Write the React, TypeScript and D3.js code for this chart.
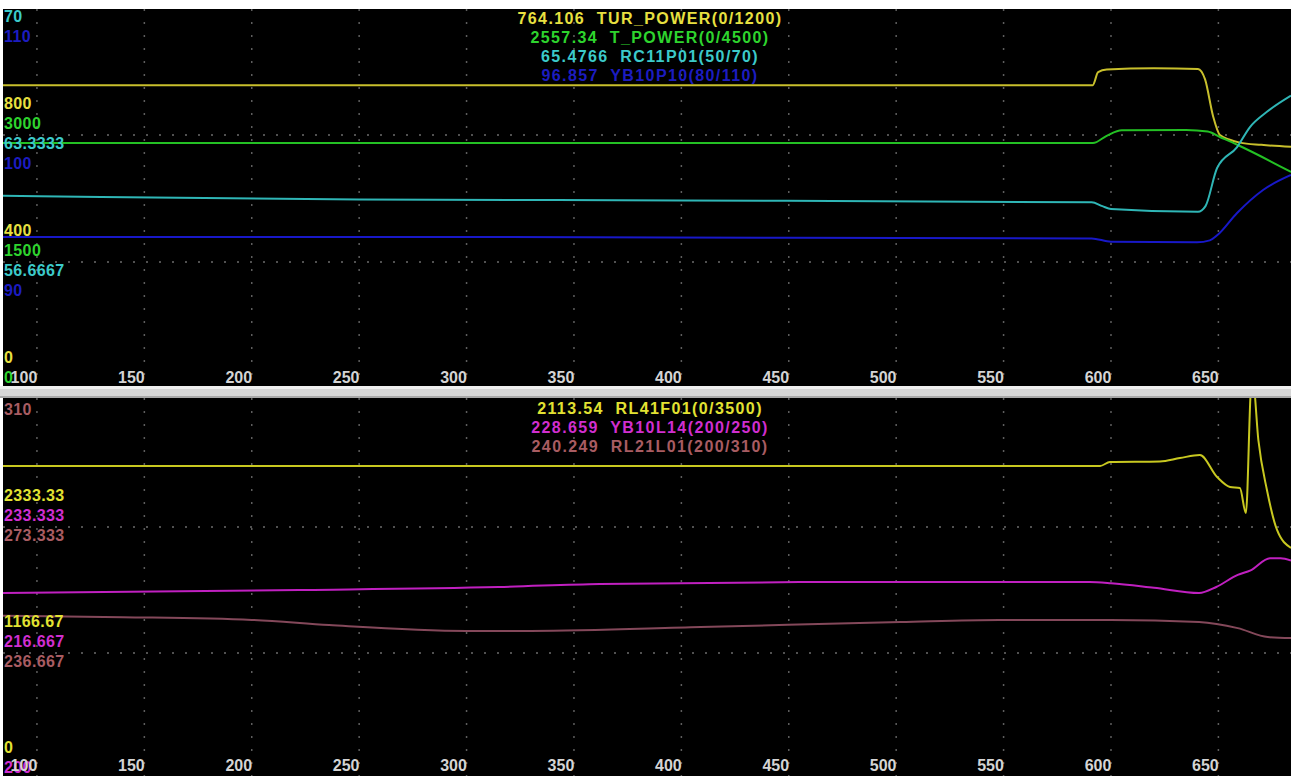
import React from "react";
import * as d3 from "d3";

const W = 1291;
const H = 776;

const TIME_TICKS = [100, 150, 200, 250, 300, 350, 400, 450, 500, 550, 600, 650];
const TIME_DOMAIN = [84.2, 683.8];

// ---------- top panel series: [time, value] ----------
const TUR_POWER = [
  [84.2, 957], [591.5, 957], [594, 998], [598, 1006], [620, 1010], [640.5, 1008],
  [643.8, 975], [647.5, 860], [650.7, 800], [655, 786], [660, 776], [670, 769], [683.8, 763],
];
const T_POWER = [
  [84.2, 2905], [591.6, 2905], [598, 2990], [605, 3055], [635, 3059], [645, 3040],
  [650.7, 2976], [659, 2882], [683.8, 2563],
];
const RC11P01 = [
  [84.2, 60.15], [130, 60.08], [250, 59.95], [400, 59.9], [591, 59.8], [596, 59.6],
  [600, 59.45], [640.5, 59.3], [644, 59.6], [649.4, 61.6], [658.7, 62.7],
  [664.7, 63.75], [672.6, 64.55], [683.8, 65.4],
];
const YB10P10 = [
  [84.2, 91.97], [300, 91.97], [450, 91.9], [591, 91.85], [600, 91.6], [640, 91.55],
  [646, 91.7], [649.4, 92.1], [658.7, 93.86], [670.8, 95.67], [683.8, 96.85],
];

// ---------- bottom panel series ----------
const RL41F01 = [
  [84.2, 2898], [594.9, 2898], [599.5, 2935], [622.8, 2940], [632.1, 2972], [641.4, 3000],
  [649.4, 2796], [655.4, 2704], [660, 2694], [662.8, 2463], [665.4, 3650], [666.2, 3650],
  [668.6, 3139], [672.6, 2676], [677.3, 2306], [683.8, 2140],
];
const YB10L14 = [
  [84.2, 224.6], [222, 225.0], [315, 225.4], [362, 225.8], [455, 226.05], [590, 226.05],
  [600, 225.9], [620, 225.3], [641, 224.6], [649, 225.4], [659, 227.0], [665, 227.6],
  [674, 229.2], [679, 229.2], [683.8, 228.9],
];
const RL21L01 = [
  [84.2, 247.5], [140, 247.1], [200, 246.3], [236, 244.8], [300, 243.1], [330, 243.1],
  [409, 244.2], [502, 245.7], [548, 246.3], [600, 246.3], [641, 245.7], [659, 243.9],
  [673, 241.3], [683.8, 241.0],
];

// ---------- meta ----------
const TOP_NAMES = ["TUR_POWER", "T_POWER", "RC11P01", "YB10P10"];
const TOP_MIN = [0, 0, 50, 80];
const TOP_MAX = [1200, 4500, 70, 110];
const TOP_CURRENT = ["764.106", "2557.34", "65.4766", "96.857"];
const TOP_TICKS = [
  ["1200", "800", "400", "0"],
  ["4500", "3000", "1500", "0"],
  ["70", "63.3333", "56.6667", "50"],
  ["110", "100", "90", "80"],
];
const TOP_LINE_COLORS = ["#c8bf2c", "#24c024", "#2fb6b6", "#1818c8"];
const TOP_TEXT_COLORS = ["#e8e040", "#2ed42e", "#3ccaca", "#1c1cc0"];

const BOT_NAMES = ["RL41F01", "YB10L14", "RL21L01"];
const BOT_MIN = [0, 200, 200];
const BOT_MAX = [3500, 250, 310];
const BOT_CURRENT = ["2113.54", "228.659", "240.249"];
const BOT_TICKS = [
  ["3500", "2333.33", "1166.67", "0"],
  ["250", "233.333", "216.667", "200"],
  ["310", "273.333", "236.667", "200"],
];
const BOT_LINE_COLORS = ["#c8c820", "#c020c0", "#84485a"];
const BOT_TEXT_COLORS = ["#e2e232", "#d02ed0", "#a85c62"];

const FRACTIONS = [1, 2 / 3, 1 / 3, 0];

const FONT = "'Liberation Sans', Arial, sans-serif";

const x = d3.scaleLinear().domain(TIME_DOMAIN).range([3, W]);

type PanelProps = {
  id: string;
  yMaxPx: number;
  yMinPx: number;
  clipTop: number;
  clipBottom: number;
  data: number[][][];
  names: string[];
  mins: number[];
  maxs: number[];
  current: string[];
  ticks: string[][];
  lineColors: string[];
  textColors: string[];
  legendY: number;
  xLabelY: number;
};

function Panel(p: PanelProps) {
  const frac = d3.scaleLinear().domain([0, 1]).range([p.yMinPx, p.yMaxPx]);
  const grid = [2 / 3, 1 / 3];
  const labels: { key: string; y: number; text: string; color: string }[] = [];
  FRACTIONS.forEach((f, fi) => {
    p.ticks.forEach((tl, i) => {
      const y = frac(f) - 32 + 20 * i;
      if (y > p.clipTop + 6 && y < p.clipBottom - 6) {
        labels.push({ key: `${fi}-${i}`, y, text: tl[fi], color: p.textColors[i] });
      }
    });
  });
  return (
    <g>
      <defs>
        <clipPath id={p.id}>
          <rect x={3} y={p.clipTop} width={W} height={p.clipBottom - p.clipTop} />
        </clipPath>
      </defs>
      <rect x={3} y={p.clipTop} width={W} height={p.clipBottom - p.clipTop} fill="#000" />
      <g clipPath={`url(#${p.id})`}>
        {TIME_TICKS.map((t) => (
          <line
            key={t}
            x1={x(t)}
            x2={x(t)}
            y1={p.clipTop}
            y2={p.clipBottom}
            stroke="#5e5e5e"
            strokeWidth={1.5}
            strokeDasharray="2 11"
          />
        ))}
        {grid.map((g) => (
          <line
            key={g}
            x1={3}
            x2={W}
            y1={frac(g)}
            y2={frac(g)}
            stroke="#6c6c6c"
            strokeWidth={1.5}
            strokeDasharray="2 11"
          />
        ))}
        {p.data.map((s, i) => {
          const y = d3.scaleLinear().domain([p.mins[i], p.maxs[i]]).range([p.yMinPx, p.yMaxPx]);
          const line = d3
            .line<number[]>()
            .x((d) => x(d[0]))
            .y((d) => y(d[1]))
            .curve(d3.curveMonotoneX);
          return (
            <path
              key={i}
              d={line(s) || ""}
              fill="none"
              stroke={p.lineColors[i]}
              strokeWidth={2}
              strokeLinejoin="round"
            />
          );
        })}
        {/* left axis labels */}
        {labels.map((l) => (
          <text
            key={l.key}
            x={4}
            y={l.y}
            dy="0.35em"
            fill={l.color}
            fontFamily={FONT}
            fontWeight="bold"
            fontSize={16}
            letterSpacing={0.4}
          >
            {l.text}
          </text>
        ))}
        {/* x labels */}
        {TIME_TICKS.map((t) => (
          <text
            key={t}
            x={x(t) - 13}
            y={p.xLabelY}
            dy="0.35em"
            textAnchor="middle"
            fill="#d4d4d4"
            fontFamily={FONT}
            fontWeight="bold"
            fontSize={16}
          >
            {t}
          </text>
        ))}
        {/* legend */}
        {p.names.map((n, i) => (
          <text
            key={n}
            x={650}
            y={p.legendY + 19 * i}
            dy="0.35em"
            textAnchor="middle"
            fill={p.textColors[i]}
            fontFamily={FONT}
            fontWeight="bold"
            fontSize={16}
            letterSpacing={1.4}
            style={{ whiteSpace: "pre" }}
          >
            {`${p.current[i]}  ${n}(${p.mins[i]}/${p.maxs[i]})`}
          </text>
        ))}
      </g>
    </g>
  );
}

export default function App() {
  return (
    <svg
      width={W}
      height={H}
      style={{ position: "absolute", left: 0, top: 0, background: "#fff" }}
    >
      <rect x={0} y={0} width={W} height={H} fill="#fff" />
      <Panel
        id="clipTop"
        yMaxPx={8}
        yMinPx={389}
        clipTop={9}
        clipBottom={386}
        data={[TUR_POWER, T_POWER, RC11P01, YB10P10]}
        names={TOP_NAMES}
        mins={TOP_MIN}
        maxs={TOP_MAX}
        current={TOP_CURRENT}
        ticks={TOP_TICKS}
        lineColors={TOP_LINE_COLORS}
        textColors={TOP_TEXT_COLORS}
        legendY={18}
        xLabelY={377}
      />
      <Panel
        id="clipBot"
        yMaxPx={401}
        yMinPx={779}
        clipTop={398}
        clipBottom={H}
        data={[RL41F01, YB10L14, RL21L01]}
        names={BOT_NAMES}
        mins={BOT_MIN}
        maxs={BOT_MAX}
        current={BOT_CURRENT}
        ticks={BOT_TICKS}
        lineColors={BOT_LINE_COLORS}
        textColors={BOT_TEXT_COLORS}
        legendY={408}
        xLabelY={765}
      />
      {/* separator bar */}
      <rect x={0} y={386} width={W} height={12} fill="#d6d6d6" />
      <rect x={0} y={386} width={W} height={3} fill="#efefef" />
      <rect x={0} y={396} width={W} height={2} fill="#a8a8a8" />
    </svg>
  );
}
